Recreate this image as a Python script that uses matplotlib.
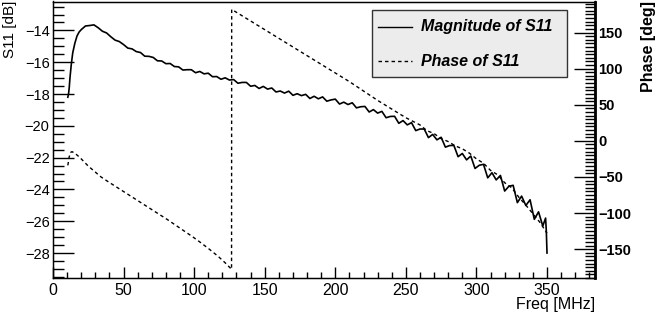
import matplotlib
matplotlib.use("Agg")
import matplotlib.pyplot as plt
from matplotlib.ticker import MultipleLocator
from matplotlib.lines import Line2D
from matplotlib.patches import Rectangle

plt.rcParams['font.family'] = ['Liberation Sans', 'DejaVu Sans']

# ---------------- data ----------------
mag_freq = [10.5, 11, 11.5, 12, 13, 14, 15.5, 17, 18.5, 20,
            23, 26, 29, 32, 35, 38, 41, 44, 47, 50, 53, 56, 59, 62, 65, 68, 71, 74, 77, 80,
            83, 86, 89, 92, 95, 98, 101, 104, 107, 110, 113, 116, 119, 122, 125, 128, 131, 134, 137, 140,
            143, 146, 149, 152, 155, 158, 161, 164, 167, 170, 173, 176, 179, 182, 185, 188, 191, 194, 197, 200,
            203, 206, 209, 212, 215, 218, 221, 224, 227, 230, 233, 236, 239, 242, 245, 248, 251, 254, 257, 260,
            263, 266, 269, 272, 275, 278, 281, 284, 287, 290, 293, 296, 299, 302, 305, 308, 311, 314, 317, 320,
            323, 326, 329, 332, 335, 338, 341, 344, 347, 349, 349.5, 350]
mag_db = [-18.2, -18.0, -17.6, -17.0, -16.1, -15.4, -14.8, -14.35, -14.1, -13.95,
          -13.72, -13.69, -13.65, -13.83, -14.05, -14.16, -14.40, -14.61, -14.70, -14.89,
          -15.11, -15.16, -15.33, -15.39, -15.62, -15.63, -15.70, -15.91, -15.92, -16.09,
          -16.08, -16.27, -16.29, -16.49, -16.47, -16.47, -16.66, -16.58, -16.73, -16.69,
          -16.91, -16.90, -17.07, -16.98, -17.12, -17.09, -17.32, -17.27, -17.27, -17.51,
          -17.46, -17.65, -17.52, -17.69, -17.62, -17.87, -17.81, -17.94, -17.82, -18.08,
          -17.98, -18.10, -18.02, -18.28, -18.14, -18.30, -18.18, -18.45, -18.37, -18.32,
          -18.63, -18.51, -18.66, -18.55, -18.87, -18.80, -18.78, -19.13, -18.98, -19.20,
          -19.09, -19.49, -19.41, -19.40, -19.84, -19.67, -19.94, -19.80, -20.30, -20.20,
          -20.20, -20.74, -20.54, -20.88, -20.72, -21.34, -21.24, -21.23, -21.94, -21.74,
          -22.14, -21.90, -22.68, -22.48, -22.42, -23.27, -22.95, -23.40, -23.12, -24.10,
          -23.80, -23.74, -24.83, -24.42, -25.01, -24.65, -25.88, -25.41, -26.30, -25.80,
          -26.6, -28.0]

phase_freq = [10.5, 11.5, 12.5, 13.5, 16, 19, 22, 25, 28, 31, 34, 39, 45, 51, 57, 63, 69, 75, 81, 87, 93,
              99, 105, 111, 117, 122, 126.5,
              126.6, 127.5, 130, 140, 150, 160, 170, 180, 190, 200, 210, 220, 230, 240, 250,
              255, 260, 265, 270, 275, 280, 285, 290, 295, 300, 305, 310, 315, 320, 325, 330,
              335, 340, 345, 350]
phase_deg = [-34, -22, -16, -15, -18, -23, -29, -35, -40, -45, -50, -56.5, -64, -71.5, -79, -86.5, -94,
             -101.5, -109, -117, -125, -133, -141.5, -150.5, -160, -169, -178,
             182, 181, 178, 166, 154, 142, 130, 118, 106, 94, 82, 69, 56, 44, 32,
             27, 22, 14, 10, 3, -1, -7, -11, -17, -25, -31, -41, -47, -58, -65, -78,
             -89, -101, -113, -128]

# ---------------- figure ----------------
W, H = 658, 314
fig = plt.figure(figsize=(W / 100, H / 100), dpi=100)
x0, x1, y0, y1 = 53, 595, 1.5, 278
ax = fig.add_axes([x0 / W, 1 - y1 / H, (x1 - x0) / W, (y1 - y0) / H])
ax2 = ax.twinx()

ax.plot(mag_freq, mag_db, color='black', lw=1.2)
ax2.plot(phase_freq, phase_deg, color='black', lw=1.0, dashes=(2.5, 2.2))

ax.set_xlim(0, 384)
ax.set_ylim(-29.57, -12.18)
ax2.set_ylim(-190, 193)

ax.xaxis.set_major_locator(MultipleLocator(50))
ax.xaxis.set_minor_locator(MultipleLocator(10))
ax.yaxis.set_major_locator(MultipleLocator(2))
ax.yaxis.set_minor_locator(MultipleLocator(0.5))
ax2.yaxis.set_major_locator(MultipleLocator(50))
ax2.yaxis.set_minor_locator(MultipleLocator(5))

ax.tick_params(axis='x', which='major', direction='in', length=8, width=1, labelsize=11.5, pad=3.5)
ax.tick_params(axis='x', which='minor', direction='in', length=4, width=1)
ax.tick_params(axis='y', which='major', direction='in', length=15, width=1, labelsize=10.5, pad=2.5,
               left=True, right=False)
ax.tick_params(axis='y', which='minor', direction='in', length=8, width=1, left=True, right=False)
ax2.tick_params(axis='y', which='major', direction='in', length=15, width=1, labelsize=10.5, pad=2.5)
ax2.tick_params(axis='y', which='minor', direction='in', length=7, width=1)
for lab in ax2.get_yticklabels():
    lab.set_fontweight('bold')

for sp in ax.spines.values():
    sp.set_linewidth(1.0)
ax2.spines['right'].set_linewidth(2.0)

# axis titles (ROOT style, aligned to axis ends)
fig.text(10 / W, 1 - 1 / H, 'S11 [dB]', rotation=90, ha='center', va='top', fontsize=11)
fig.text(649 / W, 1 - 0.5 / H, 'Phase [deg]', rotation=90, ha='center', va='top', fontsize=11.5,
         fontweight='bold')
fig.text(x1 / W, 1 - 305 / H, 'Freq [MHz]', ha='right', va='center', fontsize=11.5)

# legend box
lx0, lx1, ly0, ly1 = 372, 567, 10, 77
fig.patches.append(Rectangle((lx0 / W, 1 - ly1 / H), (lx1 - lx0) / W, (ly1 - ly0) / H,
                             transform=fig.transFigure, facecolor='#ececec', edgecolor='#333333',
                             lw=1.0, zorder=5))
for yy, lbl, dash in [(27, 'Magnitude of S11', None), (61, 'Phase of S11', (2.5, 2.2))]:
    ln = Line2D([378 / W, 412 / W], [1 - yy / H, 1 - yy / H], transform=fig.transFigure,
                color='black', lw=1.0, zorder=6)
    if dash:
        ln.set_dashes(dash)
    fig.lines.append(ln)
    fig.text(421 / W, 1 - yy / H, lbl, ha='left', va='center', fontsize=11.5,
             fontweight='bold', fontstyle='italic', zorder=7)

fig.savefig('out.png', dpi=100, facecolor='white')
